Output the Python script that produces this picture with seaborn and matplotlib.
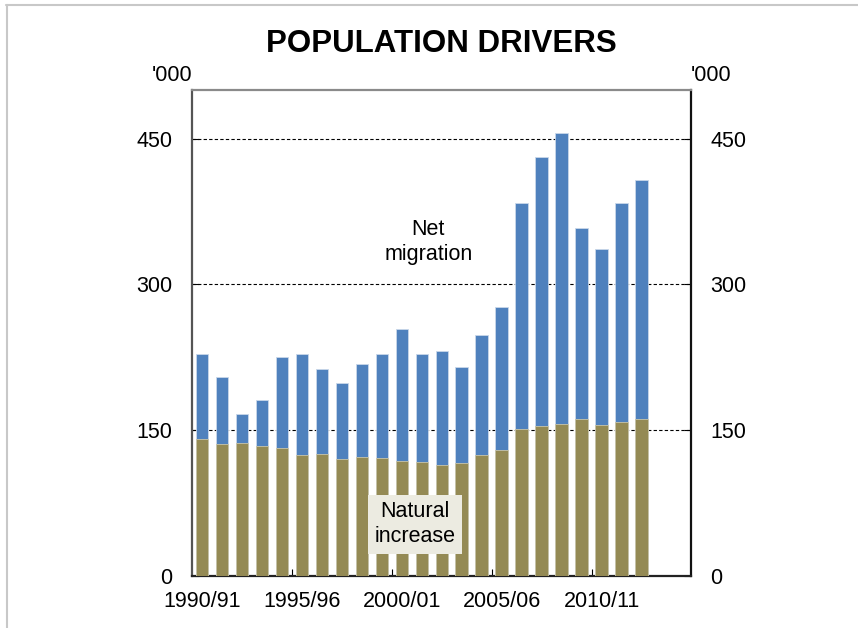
"""Population drivers: natural increase vs net migration (stacked bars)"""
import numpy as np
import pandas as pd
import matplotlib
matplotlib.use("Agg")
import matplotlib.pyplot as plt
import seaborn as sns
from matplotlib.lines import Line2D

# ---- data ('000 persons, financial years) ----
years = ["1990/91", "1991/92", "1992/93", "1993/94", "1994/95", "1995/96",
         "1996/97", "1997/98", "1998/99", "1999/00", "2000/01", "2001/02",
         "2002/03", "2003/04", "2004/05", "2005/06", "2006/07", "2007/08",
         "2008/09", "2009/10", "2010/11", "2011/12", "2012/13"]
natural_increase = [141, 136, 137, 134, 132, 124, 126, 120, 122, 121, 118, 117,
                    114, 116, 124, 130, 151, 154, 156, 162, 155, 158, 162]
net_migration = [87, 69, 30, 47, 93, 104, 87, 79, 96, 107, 136, 111,
                 117, 99, 124, 147, 233, 277, 300, 196, 181, 226, 245]
label_years = ["1990/91", "1995/96", "2000/01", "2005/06", "2010/11"]

df = pd.DataFrame({"year": years,
                   "natural": natural_increase,
                   "migration": net_migration})
df["total"] = df["natural"] + df["migration"]

blue = "#4f81bd"
olive = "#948a54"

sns.set_style("white")
plt.rcParams["font.family"] = ["Liberation Sans", "DejaVu Sans"]
plt.rcParams["text.color"] = "black"
plt.rcParams["xtick.color"] = "black"
plt.rcParams["ytick.color"] = "black"

fs = 15.5

fig = plt.figure(figsize=(8.58, 6.28), dpi=100)
ax = fig.add_axes([192 / 858, 1 - 576 / 628, (691 - 192) / 858, (576 - 90) / 628])

sns.barplot(data=df, x="year", y="total", order=years, color=blue,
            width=0.64, edgecolor="#c9d8ea", linewidth=0.6, saturation=1,
            ax=ax, zorder=2)
sns.barplot(data=df, x="year", y="natural", order=years, color=olive,
            width=0.64, edgecolor="#c9c5aa", linewidth=0.6, saturation=1,
            ax=ax, zorder=3)

ax.set_xlim(-0.5, 24.46)
ax.set_ylim(0, 500)
ax.set_xlabel("")
ax.set_ylabel("")

# gridlines
for v in [150, 300, 450]:
    ax.axhline(v, color="black", lw=0.8, ls=(0, (3, 2)), zorder=1)

# y ticks both sides
ax.set_yticks([0, 150, 300, 450])
ax.tick_params(axis="y", which="major", left=True, right=True,
               labelleft=True, labelright=True, direction="in",
               length=5, width=0.8, pad=14, labelsize=fs, colors="black")

# x labels centred on bars, tick marks between bars
ax.set_xticks([years.index(y) for y in label_years])
ax.set_xticklabels(label_years)
ax.set_xticks([4.5, 9.5, 14.5, 19.5], minor=True)
ax.tick_params(axis="x", which="major", length=0, pad=11, labelsize=fs,
               colors="black")
ax.tick_params(axis="x", which="minor", bottom=True, direction="in",
               length=5, width=0.8, color="black")

for side, col, lw in [("left", "#555555", 1.6), ("top", "#8a8a8a", 1.6),
                      ("right", "#111111", 1.6), ("bottom", "#222222", 1.6)]:
    ax.spines[side].set_visible(True)
    ax.spines[side].set_color(col)
    ax.spines[side].set_linewidth(lw)

# unit labels & title
ax.text(0, 1.03, "'000", transform=ax.transAxes, ha="right", va="center", fontsize=fs)
ax.text(1, 1.03, "'000", transform=ax.transAxes, ha="left", va="center", fontsize=fs)
ax.text(0.5, 1.094, "POPULATION DRIVERS", transform=ax.transAxes, ha="center",
        va="center", fontsize=22.5, fontweight="bold")

# series annotations
ax.text(11.32, 344, "Net\nmigration", ha="center", va="center", fontsize=fs,
        linespacing=1.25, zorder=5)
ax.text(10.67, 53, "Natural\nincrease", ha="center", va="center", fontsize=fs,
        linespacing=1.25, zorder=5,
        bbox=dict(boxstyle="square,pad=0.3", fc="#ecebe1", ec="none"))

# light frame of the original graphic
fig.add_artist(Line2D([6 / 858, 1], [1 - 4.5 / 628, 1 - 4.5 / 628],
                      transform=fig.transFigure, color="#c8c8c8", lw=1.5))
fig.add_artist(Line2D([6.5 / 858, 6.5 / 858], [0, 1 - 4.5 / 628],
                      transform=fig.transFigure, color="#c8c8c8", lw=1.5))

fig.savefig("out.png", dpi=100, facecolor="white")
plt.close(fig)
